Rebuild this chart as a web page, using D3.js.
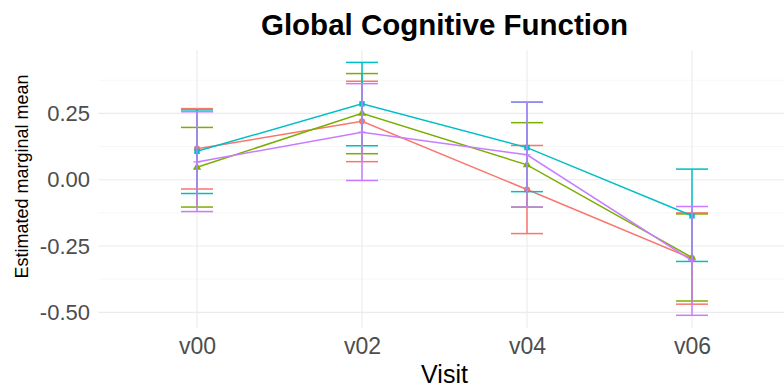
<!DOCTYPE html>
<html><head><meta charset="utf-8">
<script src="https://cdn.jsdelivr.net/npm/d3@7"></script>
<style>body{margin:0;background:#fff}svg{display:block}</style>
</head><body>
<svg id="c" width="784" height="390"></svg>
<script>
const visits = ["v00","v02","v04","v06"];
const groups = ["g1","g2","g3","g4"];
const colors = ["#F8766D","#7CAE00","#00BFC4","#C77CFF"];
const means = [
  [0.117, 0.220, -0.037, -0.297],
  [0.047, 0.250, 0.056, -0.293],
  [0.107, 0.286, 0.121, -0.136],
  [0.067, 0.179, 0.094, -0.305]
];
const lower = [
  [-0.035, 0.068, -0.203, -0.469],
  [-0.103, 0.098, -0.103, -0.457],
  [-0.052, 0.128, -0.045, -0.308],
  [-0.120, -0.003, -0.103, -0.511]
];
const upper = [
  [0.268, 0.371, 0.129, -0.125],
  [0.197, 0.400, 0.215, -0.129],
  [0.263, 0.442, 0.292, 0.040],
  [0.256, 0.362, 0.293, -0.101]
];
const yTicks = [0.25, 0, -0.25, -0.5];
const yMinor = [0.375, 0.125, -0.125, -0.375];
const title = "Global Cognitive Function";

const FONT = "Liberation Sans, Arial, Helvetica, sans-serif";
const svg = d3.select("#c");
const L = 98, R = 791, T = 50, B = 328;
const x = d3.scalePoint().domain(visits).range([L, R]).padding(0.6);
const y = d3.scaleLinear().domain([-0.5588, 0.4888]).range([B, T]);

const grid = svg.append("g");
grid.selectAll(".mi").data(yMinor).join("line")
  .attr("x1", L).attr("x2", R).attr("y1", d => y(d)).attr("y2", d => y(d))
  .attr("stroke", "#f2f2f2").attr("stroke-width", 0.6);
grid.selectAll(".ma").data(yTicks).join("line")
  .attr("x1", L).attr("x2", R).attr("y1", d => y(d)).attr("y2", d => y(d))
  .attr("stroke", "#ebebeb").attr("stroke-width", 1.1);
grid.selectAll(".mx").data(visits).join("line")
  .attr("x1", d => x(d)).attr("x2", d => x(d)).attr("y1", T).attr("y2", B)
  .attr("stroke", "#ebebeb").attr("stroke-width", 1.1);

const yAxis = svg.append("g").attr("transform", `translate(${L},0)`)
  .call(d3.axisLeft(y).tickValues(yTicks).tickFormat(d3.format(".2f")).tickSize(0).tickPadding(8));
yAxis.select(".domain").remove();
yAxis.selectAll("text").attr("font-family", FONT)
  .attr("font-size", 22).attr("fill", "#4d4d4d").text(d => d3.format(".2f")(d).replace("−","-"));

const xAxis = svg.append("g").attr("transform", `translate(0,${B})`)
  .call(d3.axisBottom(x).tickSize(0).tickPadding(10));
xAxis.select(".domain").remove();
xAxis.selectAll("text").attr("font-family", FONT)
  .attr("font-size", 23).attr("fill", "#4d4d4d");

svg.append("text").attr("x", (L + R) / 2).attr("y", 383).attr("text-anchor", "middle")
  .attr("font-family", FONT).attr("font-size", 25).attr("fill", "#000").text("Visit");
svg.append("text").attr("transform", `translate(28,176.5) rotate(-90)`).attr("text-anchor", "middle")
  .attr("font-family", FONT).attr("font-size", 18).attr("fill", "#000").text("Estimated marginal mean");
svg.append("text").attr("x", (L + R) / 2).attr("y", 35).attr("text-anchor", "middle")
  .attr("font-family", FONT).attr("font-weight", "bold").attr("font-size", 29.5).attr("fill", "#000").text(title);

const line = d3.line().x((d, i) => x(visits[i])).y(d => y(d));
const cap = 16;
groups.forEach((g, gi) => {
  const col = colors[gi];
  const gg = svg.append("g");
  visits.forEach((v, i) => {
    const cx = x(v);
    gg.append("line").attr("x1", cx).attr("x2", cx).attr("y1", y(lower[gi][i])).attr("y2", y(upper[gi][i]))
      .attr("stroke", col).attr("stroke-width", 1.5);
    [lower[gi][i], upper[gi][i]].forEach(val => {
      gg.append("line").attr("x1", cx - cap).attr("x2", cx + cap).attr("y1", y(val)).attr("y2", y(val))
        .attr("stroke", col).attr("stroke-width", 1.5);
    });
  });
  gg.append("path").datum(means[gi]).attr("d", line).attr("fill", "none")
    .attr("stroke", col).attr("stroke-width", 1.5);
  const sym = [d3.symbolCircle, d3.symbolTriangle, d3.symbolSquare, d3.symbolCross][gi];
  means[gi].forEach((m, i) => {
    if (gi === 3) {
      const cx = x(visits[i]), cy = y(m);
      gg.append("path").attr("d", `M${cx-3.5},${cy}H${cx+3.5}M${cx},${cy-3.5}V${cy+3.5}`)
        .attr("stroke", col).attr("stroke-width", 1.2);
    } else {
      gg.append("path").attr("d", d3.symbol().type(sym).size(gi === 1 ? 30 : 30)())
        .attr("transform", `translate(${x(visits[i])},${y(m)})`).attr("fill", col);
    }
  });
});
</script>
</body></html>
